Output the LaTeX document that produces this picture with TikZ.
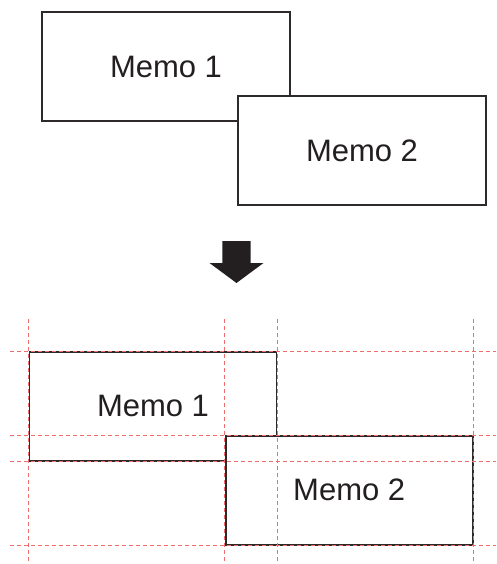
\documentclass[tikz,border=0pt]{standalone}
\usepackage{fontspec}
\setmainfont{Liberation Sans}
\definecolor{ink}{RGB}{35,31,32}
\definecolor{guidered}{RGB}{238,110,110}
\tikzset{
  memo/.style={draw=ink!95, line width=1.6pt, fill=white, rectangle, inner sep=0pt,
    text=ink, font=\fontsize{31}{36}\selectfont},
  topmemo/.style={memo, minimum width=248pt, minimum height=109pt},
  botmemo/.style={memo, minimum width=247pt, minimum height=109pt},
  guide/.style={draw=guidered, line width=0.9pt, dash pattern=on 4pt off 3pt},
}
\begin{document}
\begin{tikzpicture}[x=1pt, y=-1pt]
\useasboundingbox (0,0) rectangle (496,564);
% top
\node[topmemo] (m1) at (166,66.5) {Memo 1};
\node[topmemo] (m2) at (362,150.5) {Memo 2};
% arrow
\fill[ink] (222.3,241) -- (250.7,241) -- (250.7,263) -- (263.5,263)
  -- (236.5,283) -- (209.5,263) -- (222.3,263) -- cycle;
% bottom
\node[botmemo] (b1) at (153,406.3) {Memo 1};
\node[botmemo] (b2) at (349.2,490.3) {Memo 2};
% guides
\foreach \a in {b1.west, b1.east, b2.west, b2.east}{
  \draw[guide] (\a |- 0,319) -- (\a |- 0,564);
}
\foreach \a in {b1.north, b1.south, b2.north, b2.south}{
  \draw[guide] (10,0 |- \a) -- (496,0 |- \a);
}
\end{tikzpicture}
\end{document}
